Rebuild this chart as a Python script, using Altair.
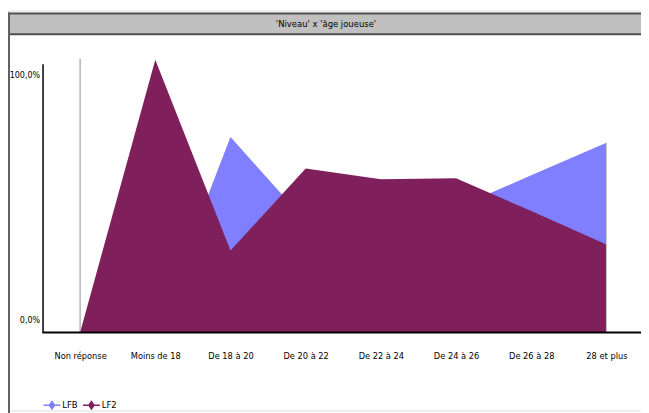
import json
import altair as alt
import pandas as pd

categories = ["Non réponse", "Moins de 18", "De 18 à 20", "De 20 à 22",
              "De 22 à 24", "De 24 à 26", "De 26 à 28", "28 et plus"]
lfb_values = [0, 0, 72.8, 41.5, 44.0, 46.3, 58.5, 70.6]
lf2_values = [0, 101.5, 30.5, 61.0, 57.0, 57.4, 45.2, 32.7]
series = ["LFB", "LF2"]
series_colors = ["#7f7fff", "#7f1f5b"]
y_tick_values = [0, 100]
separator_top = [101.9]
title_text = "'Niveau' x 'âge joueuse'"

FONT = "Liberation Sans Narrow, Arial Narrow, DejaVu Sans Condensed, sans-serif"
W, H = 641, 405

rows = []
for s, vals in zip(series, [lfb_values, lf2_values]):
    for i, (c, v) in enumerate(zip(categories, vals)):
        rows.append({"idx": i, "cat": c, "val": v, "serie": s})
df = pd.DataFrame(rows)

n = len(categories)
x_scale = alt.Scale(domain=[0, n - 1], range=[73, 606], nice=False, zero=False)
y_scale = alt.Scale(domain=[0, 100], range=[326, 54], nice=False, zero=True)
color_scale = alt.Scale(domain=series, range=series_colors)

x_enc = alt.X("idx:Q", scale=x_scale,
              axis=alt.Axis(title=None, values=list(range(n)), labelAngle=0,
                            labelExpr=f"{json.dumps(categories, ensure_ascii=False)}[datum.value]",
                            ticks=False, grid=False, domain=False, offset=-(H - 326),
                            labelFlush=False, labelOverlap=False,
                            labelPadding=19, labelFont=FONT, labelFontSize=9.3,
                            labelColor="#000000"))
y_enc = alt.Y("val:Q", scale=y_scale,
              axis=alt.Axis(title=None, values=y_tick_values, ticks=False, grid=False,
                            domainColor="#000000", domainWidth=1.5, offset=-35,
                            labelPadding=3, labelFont=FONT, labelFontSize=9,
                            labelColor="#000000", labelBaseline="middle", labelFlush=False,
                            labelExpr="replace(format(datum.value/100, '.1%'), '.', ',')",
                            labelOffset={"condition": {"test": "datum.value === 0", "value": -13},
                                         "value": 11}))

legend = alt.Legend(title=None, orient="none", legendX=36, legendY=391,
                    direction="horizontal", labelFont=FONT, labelFontSize=9.5,
                    labelColor="#000000", columnPadding=5, labelOffset=2,
                    symbolType="M-1,-0.1L-0.35,-0.1L0,-0.6L0.35,-0.1L1,-0.1L1,0.1L0.35,0.1L0,0.6L-0.35,0.1L-1,0.1Z",
                    symbolSize=289, symbolStrokeWidth=0, symbolOpacity=1)

lfb_df = df[df.serie == "LFB"]
lf2_df = df[df.serie == "LF2"]

area_lfb = alt.Chart(lfb_df).mark_area(opacity=1).encode(
    x=x_enc, y=y_enc,
    color=alt.Color("serie:N", scale=color_scale, legend=legend))
area_lf2 = alt.Chart(lf2_df).mark_area(opacity=1).encode(
    x=alt.X("idx:Q", scale=x_scale),
    y=alt.Y("val:Q", scale=y_scale),
    color=alt.Color("serie:N", scale=color_scale, legend=legend))

sep_df = pd.DataFrame({"idx": [0], "val": [0], "top": separator_top})
sep = alt.Chart(sep_df).mark_rule(color="#909090", strokeWidth=1).encode(
    x=alt.X("idx:Q", scale=x_scale),
    y=alt.Y("val:Q", scale=y_scale), y2="top:Q")

edge_df = pd.DataFrame({"idx": [n - 1], "val": [0],
                        "top": [max(lfb_values[-1], lf2_values[-1])]})
edge = alt.Chart(edge_df).mark_rule(color="#c8c8c8", strokeWidth=1).encode(
    x=alt.X("idx:Q", scale=x_scale),
    y=alt.Y("val:Q", scale=y_scale), y2="top:Q")

base_df = pd.DataFrame({"val": [0]})
baseline = alt.Chart(base_df).mark_rule(color="#000000", strokeWidth=2).encode(
    x=alt.value(35), x2=alt.value(W), y=alt.Y("val:Q", scale=y_scale))

deco_df = pd.DataFrame({"t": [title_text]})
title_bar = alt.Chart(deco_df).mark_rect(fill="#c0c0c0", stroke="#505050", strokeWidth=2).encode(
    x=alt.value(1), x2=alt.value(W + 20), y=alt.value(3), y2=alt.value(24))
title_txt = alt.Chart(deco_df).mark_text(font=FONT, fontSize=9.5, color="#000000",
                                         baseline="middle", align="center").encode(
    x=alt.value(322), y=alt.value(14), text="t:N")
frame = alt.Chart(deco_df).mark_rule(color="#606060", strokeWidth=2).encode(
    x=alt.value(1), y=alt.value(2), y2=alt.value(H + 10))

chart = alt.layer(area_lfb, area_lf2, sep, edge, baseline, title_bar, title_txt, frame).properties(
    width=W, height=H,
    autosize=alt.AutoSizeParams(type="none"),
    padding=0,
).configure_view(stroke=None).configure(background="#ffffff")

chart.save("out.html", embed_options={"renderer": "svg", "actions": False})
